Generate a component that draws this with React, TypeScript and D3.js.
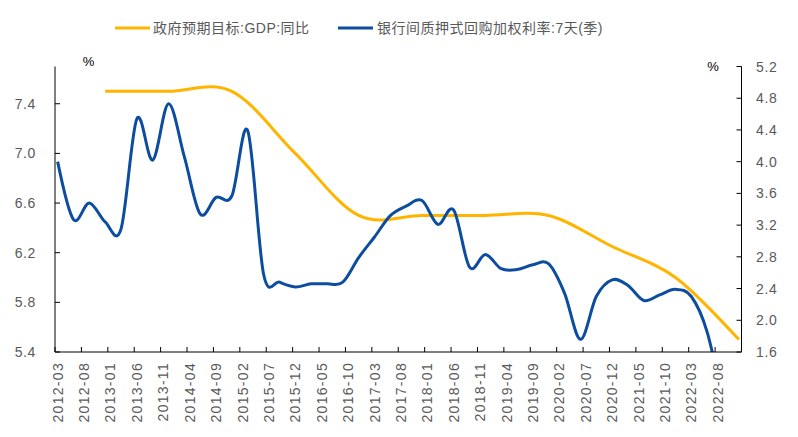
import * as d3 from "d3";

// 2012-03 .. 2022-12, monthly categories (Excel style category axis)
const months: string[] = [];
for (let y = 2012; y <= 2022; y++) {
  for (let m = 1; m <= 12; m++) {
    if (y === 2012 && m < 3) continue;
    months.push(`${y}-${String(m).padStart(2, "0")}`);
  }
}

// 政府预期目标:GDP:同比 (left axis)
const gdpDates = ["2012-12", "2013-12", "2014-12", "2015-12", "2016-12", "2017-12", "2018-12", "2019-12", "2020-12", "2021-12", "2022-12"];
const gdpValues = [7.5, 7.5, 7.5, 7.0, 6.5, 6.5, 6.5, 6.5, 6.25, 6.0, 5.5];

// 银行间质押式回购加权利率:7天(季) (right axis)
const repoDates = [
  "2012-03", "2012-06", "2012-09", "2012-12", "2013-03", "2013-06", "2013-09", "2013-12",
  "2014-03", "2014-06", "2014-09", "2014-12", "2015-03", "2015-06", "2015-09", "2015-12",
  "2016-03", "2016-06", "2016-09", "2016-12", "2017-03", "2017-06", "2017-09", "2017-12",
  "2018-03", "2018-06", "2018-09", "2018-12", "2019-03", "2019-06", "2019-09", "2019-12",
  "2020-03", "2020-06", "2020-09", "2020-12", "2021-03", "2021-06", "2021-09", "2021-12",
  "2022-03", "2022-06", "2022-09",
];
const repoValues = [
  4.0, 3.27, 3.48, 3.24, 3.15, 4.54, 4.02, 4.73,
  4.06, 3.34, 3.55, 3.57, 4.39, 2.58, 2.48, 2.42,
  2.46, 2.46, 2.48, 2.79, 3.05, 3.32, 3.44, 3.51,
  3.21, 3.39, 2.67, 2.83, 2.65, 2.64, 2.7, 2.71,
  2.34, 1.76, 2.3, 2.51, 2.44, 2.25, 2.32, 2.39,
  2.3, 1.85, 0.95,
];

const leftTicks = [5.4, 5.8, 6.2, 6.6, 7.0, 7.4];
const rightTicks = [1.6, 2.0, 2.4, 2.8, 3.2, 3.6, 4.0, 4.4, 4.8, 5.2];
const gdpLabel = "政府预期目标:GDP:同比";
const repoLabel = "银行间质押式回购加权利率:7天(季)";

const W = 798;
const H = 437;
const plot = { left: 55, right: 741.5, top: 66.5, bottom: 352 };
const YELLOW = "#FFB400";
const BLUE = "#0D4D9F";
const GRAY = "#595959";
const FONT = '"Liberation Sans", Arial, "Noto Sans CJK SC", sans-serif';

export default function App() {
  const x = d3.scaleBand<string>().domain(months).range([plot.left, plot.right]).padding(0);
  const cx = (d: string) => (x(d) ?? 0) + x.bandwidth() / 2;
  const yL = d3.scaleLinear().domain([5.4, 7.7]).range([plot.bottom, plot.top]);
  const yR = d3.scaleLinear().domain([1.6, 5.2]).range([plot.bottom, plot.top]);

  const gdpLine = d3
    .line<number>()
    .x((_, i) => cx(gdpDates[i]))
    .y((v) => yL(v))
    .curve(d3.curveCardinal.tension(0));
  const repoLine = d3
    .line<number>()
    .x((_, i) => cx(repoDates[i]))
    .y((v) => yR(v))
    .curve(d3.curveCardinal.tension(0));

  const tickIdx = months.map((_, i) => i).filter((i) => i % 5 === 0);

  return (
    <svg width={W} height={H} style={{ position: "absolute", left: 0, top: 0, background: "#fff" }} fontFamily={FONT}>
      <defs>
        <clipPath id="plotClip">
          <rect x={plot.left} y={plot.top - 30} width={plot.right - plot.left} height={plot.bottom - plot.top + 30} />
        </clipPath>
      </defs>

      {/* legend */}
      <g>
        <line x1={115} x2={150} y1={28} y2={28} stroke={YELLOW} strokeWidth={3} />
        <text x={153} y={33} fontSize={14} fill={GRAY} letterSpacing={0.5}>{gdpLabel}</text>
        <line x1={338} x2={373} y1={28} y2={28} stroke={BLUE} strokeWidth={3} />
        <text x={377} y={33} fontSize={14} fill={GRAY} letterSpacing={0.5}>{repoLabel}</text>
      </g>

      {/* unit labels */}
      <text x={88.5} y={66} fontSize={13} textAnchor="middle" fill="#000">%</text>
      <text x={713} y={71} fontSize={13} textAnchor="middle" fill="#000">%</text>

      {/* lines */}
      <g clipPath="url(#plotClip)">
        <path d={gdpLine(gdpValues) ?? ""} fill="none" stroke={YELLOW} strokeWidth={3} />
        <path d={repoLine(repoValues) ?? ""} fill="none" stroke={BLUE} strokeWidth={3} />
      </g>

      {/* left axis */}
      <line x1={plot.left} x2={plot.left} y1={plot.top} y2={plot.bottom} stroke="#000" />
      {leftTicks.map((t) => (
        <g key={t}>
          <line x1={plot.left} x2={plot.left + 5} y1={yL(t)} y2={yL(t)} stroke="#000" />
          <text x={36} y={yL(t)} dy="0.36em" textAnchor="end" fontSize={14} fill={GRAY} letterSpacing={0.6}>
            {t.toFixed(1)}
          </text>
        </g>
      ))}

      {/* right axis */}
      <line x1={plot.right} x2={plot.right} y1={plot.top} y2={plot.bottom} stroke="#000" />
      {rightTicks.map((t) => (
        <g key={t}>
          <line x1={plot.right - 5} x2={plot.right} y1={yR(t)} y2={yR(t)} stroke="#000" />
          <text x={756} y={yR(t)} dy="0.36em" fontSize={14} fill={GRAY} letterSpacing={0.6}>
            {t.toFixed(1)}
          </text>
        </g>
      ))}

      {/* x axis */}
      <line x1={plot.left} x2={plot.right} y1={plot.bottom} y2={plot.bottom} stroke="#000" />
      {tickIdx.map((i) => (
        <line key={i} x1={x(months[i])} x2={x(months[i])} y1={plot.bottom - 5} y2={plot.bottom} stroke="#000" />
      ))}
      <line x1={plot.right} x2={plot.right} y1={plot.bottom - 5} y2={plot.bottom} stroke="#000" />
      {tickIdx.map((i) => (
        <text
          key={i}
          transform={`translate(${cx(months[i])},${plot.bottom + 10}) rotate(-90)`}
          dy="0.36em"
          textAnchor="end"
          fontSize={14}
          fill={GRAY}
          letterSpacing={1.3}
        >
          {months[i]}
        </text>
      ))}
    </svg>
  );
}
